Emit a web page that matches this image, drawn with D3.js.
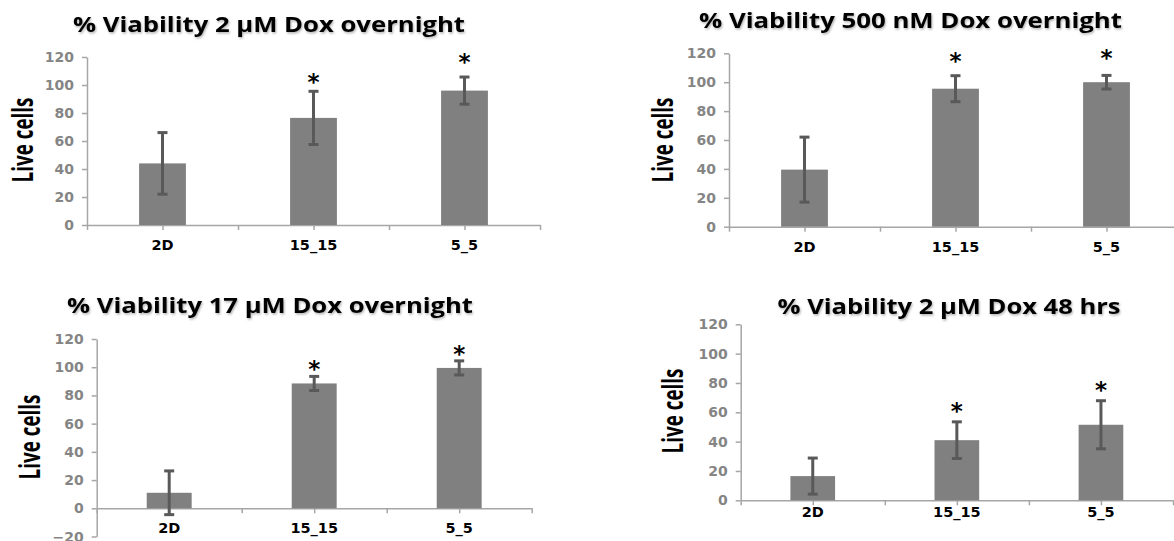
<!DOCTYPE html>
<html>
<head>
<meta charset="utf-8">
<script src="https://cdn.jsdelivr.net/npm/d3@7"></script>
<style>
  body { margin: 0; background: #fff; }
  svg { display: block; }
</style>
</head>
<body>
<svg id="chart" width="1174" height="541"></svg>
<script>
// --- data ---
const categories = ['2D', '15_15', '5_5'];

const titles = [
  '% Viability 2 \u00b5M Dox overnight',
  '% Viability 500 nM Dox overnight',
  '% Viability 17 \u00b5M Dox overnight',
  '% Viability 2 \u00b5M Dox 48 hrs',
];

const mean2uMOvernight = [44, 76.5, 96];
const err2uMOvernight = [22, 19, 9.7];
const star2uMOvernight = [null, 106, 120];

const mean500nMOvernight = [39.5, 95.5, 100];
const err500nMOvernight = [22.5, 9, 4.7];
const star500nMOvernight = [null, 118, 120.5];

const mean17uMOvernight = [11, 88.5, 99.5];
const err17uMOvernight = [15.5, 5, 5];
const star17uMOvernight = [null, 102, 113];

const mean2uM48h = [16.5, 41, 51.5];
const err2uM48h = [12.3, 12.5, 16.4];
const star2uM48h = [null, 64, 78.5];

const yTicksPositive = [0, 20, 40, 60, 80, 100, 120];
const yTicksWithNeg = [-20, 0, 20, 40, 60, 80, 100, 120];

const yLabel = 'Live cells';

// --- layout (pixels) ---
const layouts = [
  { x0: 87, x1: 540, yTop: 57, yZero: 225, titleX: 269, titleY: 32, titleLen: 392, yTitleX: 33, yTitleY: 140, labelPad: 15 },
  { x0: 729, x1: 1182, yTop: 53.3, yZero: 226.7, titleX: 910.5, titleY: 28, titleLen: 423, yTitleX: 673, yTitleY: 140, labelPad: 15 },
  { x0: 96.7, x1: 531.7, yTop: 339, yZero: 508.3, titleX: 270, titleY: 313, titleLen: 406, yTitleX: 40, yTitleY: 437, labelPad: 14 },
  { x0: 740.7, x1: 1173, yTop: 324.3, yZero: 500.3, titleX: 949, titleY: 314, titleLen: 343, yTitleX: 683, yTitleY: 411, labelPad: 6 },
];

const panels = [
  { title: titles[0], means: mean2uMOvernight, errs: err2uMOvernight, stars: star2uMOvernight, ticks: yTicksPositive },
  { title: titles[1], means: mean500nMOvernight, errs: err500nMOvernight, stars: star500nMOvernight, ticks: yTicksPositive },
  { title: titles[2], means: mean17uMOvernight, errs: err17uMOvernight, stars: star17uMOvernight, ticks: yTicksWithNeg },
  { title: titles[3], means: mean2uM48h, errs: err2uM48h, stars: star2uM48h, ticks: yTicksPositive },
];

const barColor = '#808080';
const errColor = '#595959';
const axisColor = '#a6a6a6';
const tickTextColor = '#858585';

const svg = d3.select('#chart');

const defs = svg.append('defs');
defs.append('filter')
  .attr('id', 'shadow')
  .attr('x', '-5%').attr('y', '-30%').attr('width', '110%').attr('height', '160%')
  .append('feDropShadow')
  .attr('dx', 1).attr('dy', 1.5)
  .attr('stdDeviation', 1.2)
  .attr('flood-color', '#000')
  .attr('flood-opacity', 0.3);

panels.forEach((p, i) => {
  const L = layouts[i];
  const g = svg.append('g').attr('class', 'panel');

  const yMin = d3.min(p.ticks);
  const yMax = d3.max(p.ticks);
  const k = (L.yZero - L.yTop) / yMax;

  const y = d3.scaleLinear()
    .domain([yMin, yMax])
    .range([L.yZero - yMin * k, L.yTop]);

  const x = d3.scaleBand()
    .domain(categories)
    .range([L.x0, L.x1])
    .paddingInner(0.69)
    .paddingOuter(0.345);

  // half-step tick marks along the category axis
  const xt = d3.scaleLinear().domain([0, categories.length]).range([L.x0, L.x1]);

  // y axis
  const yAxis = g.append('g')
    .attr('transform', `translate(${L.x0},0)`)
    .call(d3.axisLeft(y).tickValues(p.ticks).tickSize(5).tickSizeOuter(0).tickPadding(8));
  yAxis.select('.domain').attr('stroke', axisColor).attr('stroke-width', 1.5);
  yAxis.selectAll('.tick line').attr('stroke', axisColor).attr('stroke-width', 1.5);
  yAxis.selectAll('.tick text')
    .attr('fill', tickTextColor)
    .style('font-family', '"DejaVu Sans", sans-serif')
    .style('font-weight', 'bold')
    .style('font-size', '14px');

  // x axis line + marks
  const xAxis = g.append('g')
    .attr('transform', `translate(0,${y(0)})`)
    .call(d3.axisBottom(xt)
      .tickValues(d3.range(0, categories.length * 2 + 1).map((d) => d / 2))
      .tickFormat('')
      .tickSize(5)
      .tickSizeOuter(0));
  xAxis.select('.domain').attr('stroke', axisColor).attr('stroke-width', 1.5);
  xAxis.selectAll('.tick line').attr('stroke', axisColor).attr('stroke-width', 1.5);

  // category labels
  const xLab = g.append('g')
    .attr('transform', `translate(0,${y(0)})`)
    .call(d3.axisBottom(x).tickSize(0).tickPadding(L.labelPad));
  xLab.select('.domain').remove();
  xLab.selectAll('.tick text')
    .attr('fill', '#000')
    .style('font-family', '"DejaVu Sans", sans-serif')
    .style('font-weight', 'bold')
    .style('font-size', '14.5px');

  const rows = categories.map((c, j) => ({ c, m: p.means[j], e: p.errs[j], s: p.stars[j] }));

  // bars
  g.append('g')
    .selectAll('rect')
    .data(rows)
    .join('rect')
    .attr('x', (d) => x(d.c))
    .attr('width', x.bandwidth())
    .attr('y', (d) => y(Math.max(0, d.m)))
    .attr('height', (d) => Math.abs(y(d.m) - y(0)))
    .attr('fill', barColor);

  // error bars
  const eb = g.append('g')
    .selectAll('g')
    .data(rows)
    .join('g')
    .attr('stroke', errColor)
    .attr('stroke-width', 3);
  const cx = (d) => x(d.c) + x.bandwidth() / 2;
  eb.append('line')
    .attr('x1', cx).attr('x2', cx)
    .attr('y1', (d) => y(d.m + d.e))
    .attr('y2', (d) => y(d.m - d.e));
  eb.append('line')
    .attr('x1', (d) => cx(d) - 5).attr('x2', (d) => cx(d) + 5)
    .attr('y1', (d) => y(d.m + d.e)).attr('y2', (d) => y(d.m + d.e));
  eb.append('line')
    .attr('x1', (d) => cx(d) - 5).attr('x2', (d) => cx(d) + 5)
    .attr('y1', (d) => y(d.m - d.e)).attr('y2', (d) => y(d.m - d.e));

  // significance stars
  g.append('g')
    .selectAll('text')
    .data(rows.filter((d) => d.s != null))
    .join('text')
    .attr('x', cx)
    .attr('y', (d) => y(d.s) + 13)
    .attr('text-anchor', 'middle')
    .style('font-family', '"DejaVu Sans", sans-serif')
    .style('font-weight', 'bold')
    .style('font-size', '23px')
    .attr('fill', '#000')
    .text('*');

  // title
  g.append('text')
    .attr('x', L.titleX)
    .attr('y', L.titleY)
    .attr('text-anchor', 'middle')
    .attr('textLength', L.titleLen)
    .attr('lengthAdjust', 'spacingAndGlyphs')
    .attr('filter', 'url(#shadow)')
    .style('font-family', '"Open Sans", sans-serif')
    .style('font-weight', 700)
    .style('font-size', '21px')
    .attr('fill', '#000')
    .text(p.title);

  // y title
  g.append('text')
    .attr('transform', `translate(${L.yTitleX},${L.yTitleY}) rotate(-90)`)
    .attr('text-anchor', 'middle')
    .attr('textLength', 85)
    .attr('lengthAdjust', 'spacingAndGlyphs')
    .style('font-family', '"Open Sans", sans-serif')
    .style('font-weight', 700)
    .style('font-size', '29px')
    .attr('fill', '#000')
    .text(yLabel);
});
</script>
</body>
</html>
